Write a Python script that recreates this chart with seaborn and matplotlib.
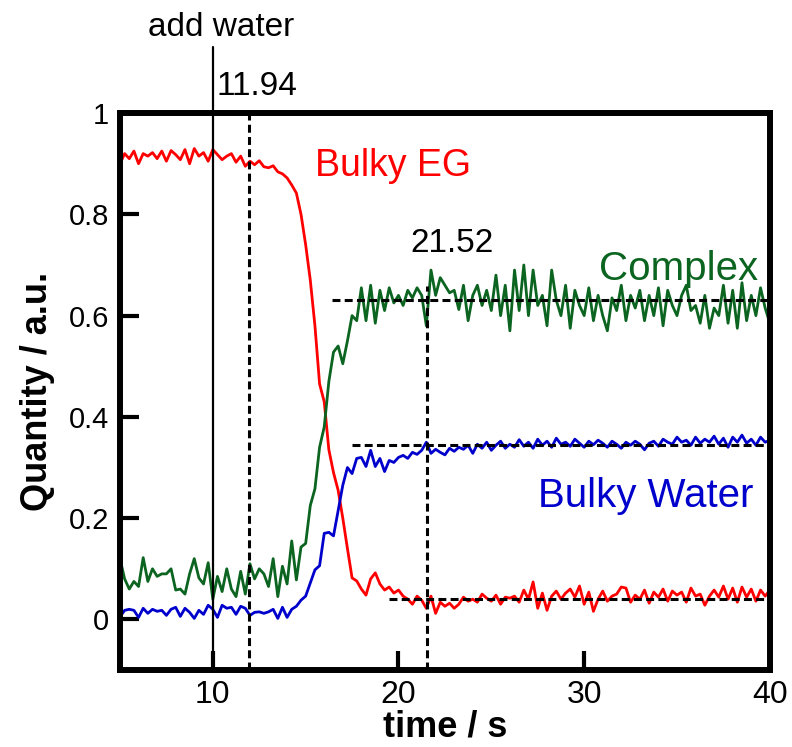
import numpy as np
import pandas as pd
import matplotlib
matplotlib.use("Agg")
import matplotlib.pyplot as plt
import seaborn as sns

# sample times (s), one reading every 0.25 s
time = 5.0 + 0.25 * np.arange(141)

bulky_eg = [
    0.900, 0.920, 0.910, 0.925, 0.900, 0.920, 0.915, 0.922,   # 5.0
    0.910, 0.925, 0.905, 0.926, 0.918, 0.908, 0.928, 0.900,   # 7.0
    0.930, 0.915, 0.922, 0.905, 0.928, 0.918, 0.908, 0.915,   # 9.0
    0.920, 0.903, 0.915, 0.895, 0.905, 0.898, 0.906, 0.894,   # 11.0
    0.892, 0.896, 0.884, 0.880, 0.872, 0.858, 0.842, 0.800,   # 13.0
    0.740, 0.670, 0.580, 0.465, 0.430, 0.335, 0.290, 0.255,   # 15.0
    0.200, 0.140, 0.082, 0.076, 0.060, 0.048, 0.080, 0.092,   # 17.0
    0.070, 0.058, 0.064, 0.052, 0.058, 0.046, 0.040, 0.030,   # 19.0
    0.046, 0.038, 0.022, 0.046, 0.012, 0.034, 0.026, 0.032,   # 21.0
    0.022, 0.030, 0.044, 0.036, 0.040, 0.034, 0.050, 0.042,   # 23.0
    0.036, 0.048, 0.030, 0.044, 0.042, 0.046, 0.034, 0.058,   # 25.0
    0.040, 0.074, 0.022, 0.052, 0.018, 0.046, 0.056, 0.040,   # 27.0
    0.052, 0.060, 0.044, 0.066, 0.030, 0.054, 0.016, 0.040,   # 29.0
    0.056, 0.036, 0.046, 0.050, 0.064, 0.062, 0.034, 0.048,   # 31.0
    0.040, 0.058, 0.032, 0.054, 0.044, 0.060, 0.036, 0.056,   # 33.0
    0.048, 0.054, 0.034, 0.062, 0.046, 0.050, 0.028, 0.046,   # 35.0
    0.058, 0.044, 0.066, 0.040, 0.062, 0.034, 0.064, 0.044,   # 37.0
    0.060, 0.036, 0.058, 0.046, 0.058,                        # 39.0
]

complex_ = [
    0.120, 0.080, 0.060, 0.075, 0.065, 0.122, 0.075, 0.100,
    0.085, 0.090, 0.090, 0.100, 0.058, 0.060, 0.050, 0.090,
    0.120, 0.082, 0.070, 0.112, 0.040, 0.085, 0.055, 0.100,
    0.060, 0.045, 0.095, 0.050, 0.110, 0.080, 0.100, 0.090,
    0.065, 0.120, 0.045, 0.105, 0.070, 0.155, 0.078, 0.143,
    0.150, 0.225, 0.258, 0.340, 0.380, 0.470, 0.528, 0.540,
    0.505, 0.550, 0.600, 0.590, 0.655, 0.590, 0.660, 0.585,
    0.650, 0.610, 0.655, 0.625, 0.640, 0.620, 0.650, 0.635,
    0.655, 0.640, 0.580, 0.690, 0.640, 0.675, 0.660, 0.645,
    0.650, 0.612, 0.660, 0.590, 0.640, 0.660, 0.620, 0.650,
    0.610, 0.680, 0.600, 0.660, 0.570, 0.690, 0.610, 0.700,
    0.600, 0.690, 0.620, 0.640, 0.580, 0.690, 0.630, 0.600,
    0.660, 0.575, 0.650, 0.620, 0.600, 0.655, 0.590, 0.640,
    0.600, 0.570, 0.635, 0.610, 0.660, 0.590, 0.640, 0.615,
    0.650, 0.590, 0.640, 0.600, 0.655, 0.580, 0.650, 0.620,
    0.600, 0.640, 0.660, 0.610, 0.620, 0.585, 0.640, 0.575,
    0.615, 0.600, 0.660, 0.585, 0.650, 0.575, 0.665, 0.590,
    0.640, 0.600, 0.655, 0.615, 0.585,
]

bulky_water = [
    0.005, 0.018, 0.020, 0.018, 0.004, 0.022, 0.012, 0.020,
    0.016, 0.018, 0.008, 0.020, 0.024, 0.006, 0.022, 0.014,
    0.002, 0.018, 0.010, 0.028, 0.020, 0.004, 0.028, 0.022,
    0.024, 0.010, 0.026, 0.022, 0.008, 0.014, 0.015, 0.012,
    0.015, 0.020, 0.002, 0.024, 0.004, 0.020, 0.026, 0.038,
    0.046, 0.072, 0.098, 0.106, 0.170, 0.172, 0.165, 0.215,
    0.265, 0.300, 0.288, 0.318, 0.320, 0.302, 0.334, 0.302,
    0.318, 0.292, 0.314, 0.310, 0.320, 0.324, 0.318, 0.330,
    0.326, 0.334, 0.350, 0.328, 0.336, 0.330, 0.325, 0.338,
    0.332, 0.340, 0.336, 0.344, 0.328, 0.346, 0.338, 0.350,
    0.334, 0.344, 0.352, 0.338, 0.346, 0.340, 0.355, 0.342,
    0.350, 0.338, 0.356, 0.344, 0.352, 0.340, 0.358, 0.346,
    0.350, 0.342, 0.356, 0.348, 0.340, 0.352, 0.345, 0.354,
    0.348, 0.340, 0.352, 0.346, 0.338, 0.350, 0.344, 0.352,
    0.346, 0.335, 0.348, 0.352, 0.342, 0.356, 0.350, 0.346,
    0.360, 0.350, 0.354, 0.344, 0.360, 0.348, 0.356, 0.350,
    0.362, 0.346, 0.358, 0.340, 0.360, 0.350, 0.364, 0.348,
    0.356, 0.344, 0.360, 0.350, 0.354,
]

species = ["Bulky EG", "Complex", "Bulky Water"]
colors = {"Bulky EG": "#ff0000", "Complex": "#0b6420", "Bulky Water": "#0000cc"}

add_water_t = 10.0
mark_times = [11.94, 21.52]
# plateau levels and where their guide lines start
levels = [0.04, 0.63, 0.345]
level_starts = [19.5, 16.4, 17.5]

df = pd.DataFrame({
    "time": np.tile(time, 3),
    "quantity": bulky_eg + complex_ + bulky_water,
    "species": np.repeat(species, len(time)),
})

sns.set_style("ticks", {"axes.edgecolor": "black", "text.color": "black",
                        "xtick.color": "black", "ytick.color": "black",
                        "axes.labelcolor": "black"})
plt.rcParams["font.family"] = ["Liberation Sans", "DejaVu Sans"]

fig = plt.figure(figsize=(7.92, 7.47), dpi=100)
ax = fig.add_axes([0.1515, 0.103, 0.8205, 0.7456])

sns.lineplot(data=df, x="time", y="quantity", hue="species", hue_order=species,
             palette=colors, estimator=None, lw=2.0, legend=False, ax=ax)

# guide lines
dash = (0, (2.6, 1.4))
ax.axvline(add_water_t, ymin=0, ymax=1.118, color="k", lw=1.6, clip_on=False)
ax.axvline(mark_times[0], color="k", lw=2.2, ls=dash)
ax.axvline(mark_times[1], ymin=0, ymax=0.689, color="k", lw=2.2, ls=dash)
for lev, start in zip(levels, level_starts):
    ax.plot([start, 40], [lev, lev], color="k", lw=2.2, ls=dash)

# annotations
ax.text(10.44, 1.152, "add water", fontsize=24, ha="center", va="baseline")
ax.text(10.2, 1.036, f"{mark_times[0]:.2f}", fontsize=24, ha="left", va="baseline")
ax.text(22.9, 0.726, f"{mark_times[1]:.2f}", fontsize=24, ha="center", va="baseline")
ax.text(15.5, 0.876, "Bulky EG", color=colors["Bulky EG"], fontsize=27, va="baseline")
ax.text(39.36, 0.671, "Complex", color=colors["Complex"], fontsize=29,
        ha="right", va="baseline")
ax.text(39.09, 0.222, "Bulky Water", color=colors["Bulky Water"], fontsize=29,
        ha="right", va="baseline")

ax.set_xlim(5, 40)
ax.set_ylim(-0.1, 1.0)
ax.set_xticks([10, 20, 30, 40])
ax.set_yticks([0, 0.2, 0.4, 0.6, 0.8, 1.0])
ax.set_yticklabels(["0", "0.2", "0.4", "0.6", "0.8", "1"])
ax.tick_params(direction="in", length=14, width=3, labelsize=21, pad=8,
               top=False, right=False)
ax.tick_params(axis="x", labelsize=23, pad=7)
for sp in ax.spines.values():
    sp.set_linewidth(4.3)
    sp.set_visible(True)

ax.set_xlabel("time / s", fontsize=26, fontweight="bold", labelpad=0)
ax.set_ylabel("Quantity / a.u.", fontsize=26, fontweight="bold", labelpad=10)

fig.savefig("out.png", dpi=100)
